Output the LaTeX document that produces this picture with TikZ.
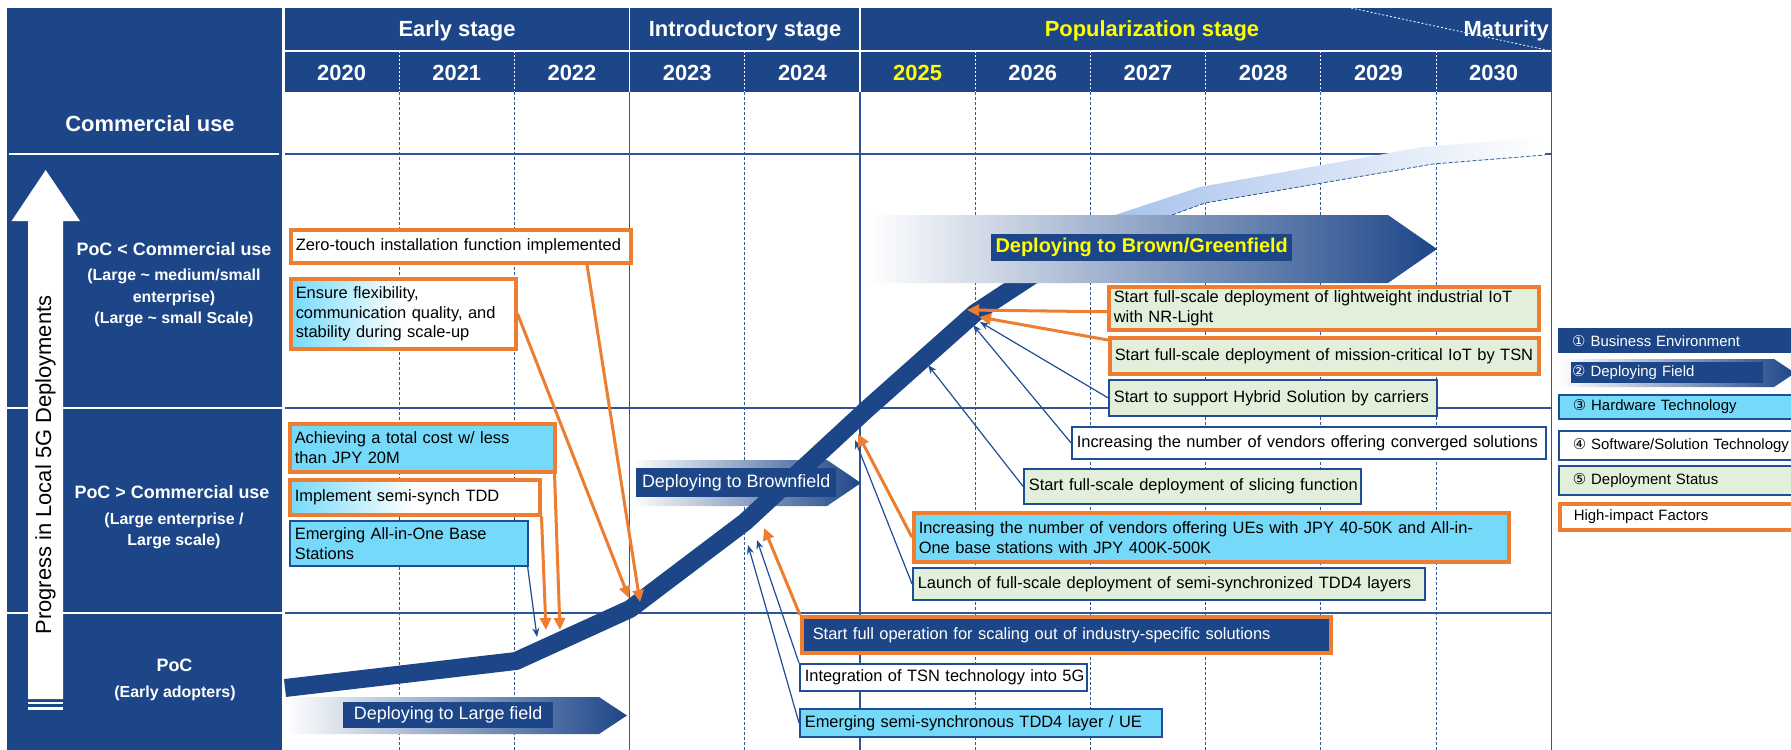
\documentclass[tikz,border=0pt]{standalone}
\usepackage{fontspec}
\setmainfont{Liberation Sans}
\newfontfamily\dejavu{DejaVu Sans}
\usetikzlibrary{arrows.meta,calc}
\definecolor{darkb}{RGB}{29,70,137}
\definecolor{gridb}{RGB}{47,85,151}
\definecolor{boxb}{RGB}{31,78,150}
\definecolor{orng}{RGB}{237,125,49}
\definecolor{cyanc}{RGB}{117,218,250}
\definecolor{greenc}{RGB}{226,239,218}
\definecolor{ribbonc}{RGB}{160,189,234}
\definecolor{yel}{RGB}{255,255,0}
\newcommand\fsBody{\fontsize{16.5}{20}\selectfont}
\newcommand\fsHdr{\fontsize{22}{26}\selectfont\bfseries}
\newcommand\fsCU{\fontsize{22}{26}\selectfont\bfseries}
\newcommand\fsLabA{\fontsize{18}{22}\selectfont\bfseries}
\newcommand\fsLabB{\fontsize{16}{21.5}\selectfont\bfseries}
\newcommand\fsArr{\fontsize{18}{22}\selectfont}
\newcommand\fsBG{\fontsize{20}{24}\selectfont\bfseries}
\newcommand\fsProg{\fontsize{22}{26}\selectfont}
\newcommand\fsLeg{\fontsize{15}{18}\selectfont}
\begin{document}
\begin{tikzpicture}[x=1bp, y=-1bp,
  tb/.style={anchor=north west, inner xsep=5bp, inner ysep=0bp, align=left, font=\fsBody, text=black},
  ob/.style={tb, draw=orng, line width=3.5bp},
  bb/.style={tb, draw=boxb, line width=1.6bp},
  oarr/.style={draw=orng, line width=3bp, -{Triangle[length=12bp,width=11bp]}},
  barr/.style={draw=boxb, line width=1.2bp, -{Stealth[length=9bp,width=7bp]}},
  hd/.style={text=white, font=\fsHdr, inner sep=0pt},
  lbl/.style={text=white, align=center, inner sep=0pt},
  arlab/.style={fill=darkb, anchor=north west, inner sep=0pt, font=\fsArr, text=white},
  lgn/.style={anchor=north west, inner xsep=14bp, inner ysep=0bp, text width=232bp, align=left, font=\fsLeg},
  gsolid/.style={draw=gridb, line width=1.5bp},
  gdash/.style={draw=gridb, line width=0.7bp, dash pattern=on 3bp off 2bp}
]
\useasboundingbox (0,0) rectangle (1791,750);
\fill[white] (0,0) rectangle (1791,750);

% panels
\fill[darkb] (7,8) rectangle (282,750);
\fill[darkb] (285,8) rectangle (1551,92);

% header lines
\draw[white, line width=1.5bp] (285,51) -- (1551,51);
\draw[white, line width=1.5bp] (629.6,8) -- (629.6,92);
\draw[white, line width=1.5bp] (860,8) -- (860,92);
\foreach \i in {1,2,4,6,7,8,9,10}
  \draw[white, line width=0.8bp, dash pattern=on 2bp off 2bp] ({284+115.2*\i},51) -- ({284+115.2*\i},92);
\draw[white, line width=0.8bp, dash pattern=on 2bp off 2bp] (1351,8) -- (1551,51);

% header texts
\node[hd] (st1) at (457,31) {Early stage};
\node[hd] (st2) at (745,31) {Introductory stage};
\node[hd, text=yel] (st3) at (1152,31) {Popularization stage};
\node[hd, anchor=east] (st4) at (1549,31) {Maturity};
\foreach \yr/\c [count=\i from 0] in {2020/white,2021/white,2022/white,2023/white,2024/white,2025/yel,2026/white,2027/white,2028/white,2029/white,2030/white}
  \node[hd, text=\c] (yr\yr) at ({284+115.2*(\i+0.5)},73) {\yr};

% grid
\foreach \i in {1,2,4,6,7,8,9,10}
  \draw[gdash] ({284+115.2*\i},92) -- ({284+115.2*\i},750);
\draw[gsolid] (629.6,92) -- (629.6,750);
\draw[gsolid] (860,92) -- (860,750);
\draw[gsolid] (1551.5,8) -- (1551.5,750);
\draw[gridb, line width=2.4bp] (285,154) -- (1551,154);
\draw[gsolid] (285,408) -- (1551,408);
\draw[gsolid] (285,613) -- (1551,613);

% left panel
\draw[white, line width=2bp] (9,154) -- (279,154);
\draw[white, line width=1.5bp] (7,408) -- (282,408);
\draw[white, line width=1.5bp] (7,613) -- (282,613);
\node[lbl, font=\fsCU] (cu) at (150,124) {Commercial use};
\node[lbl, font=\fsLabA] (l1) at (174,249) {PoC < Commercial use};
\node[lbl, font=\fsLabB] (l1s) at (174,298) {(Large \textasciitilde{} medium/small\\enterprise)\\(Large \textasciitilde{} small Scale)};
\node[lbl, font=\fsLabA] (l2) at (172,492) {PoC > Commercial use};
\node[lbl, font=\fsLabB] (l2s) at (174,531) {(Large enterprise /\\Large scale)};
\node[lbl, font=\fsLabA] (l3) at (174.5,665) {PoC};
\node[lbl, font=\fsLabB] (l3s) at (175,693) {(Early adopters)};

% big arrow
\fill[white] (45.7,170) -- (80,221) -- (63,221) -- (63,699) -- (28,699) -- (28,221) -- (11.6,221) -- cycle;
\fill[white] (28,701.5) rectangle (63,704);
\fill[white] (28,706.5) rectangle (63,709.5);
\node[rotate=90, font=\fsProg, text=black, inner sep=0pt] (prog) at (45.5,465) {Progress in Local 5G Deployments};

% field arrows
\shade[left color=white, right color=darkb] (284,697) -- (599,697) -- (627,715.5) -- (599,734) -- (284,734) -- cycle;
\shade[left color=white, right color=darkb] (631,460) -- (827,460) -- (861,483) -- (827,506) -- (631,506) -- cycle;

% S-curve band
\draw[darkb, line width=18bp, line join=round] (285,688) -- (516,661) -- (630,609) -- (745,522) -- (866,410) -- (975,313) -- (1085,241);
\shade[left color=ribbonc, right color=white] (1075,245) -- (1115,215) -- (1200,187) -- (1423,147) -- (1545,137) -- (1545,155) -- (1433,164) -- (1205,203) -- (1172,215) -- (1130,250) -- cycle;
\draw[gridb, line width=0.8bp, dash pattern=on 4bp off 2bp] (1172,215) -- (1205,203) -- (1433,164) -- (1545,155);

\shade[left color=white, right color=darkb] (868,215) -- (1388,215) -- (1437,249) -- (1388,283) -- (868,283) -- cycle;

\node[arlab, minimum width=210bp, minimum height=26bp] (lfl) at (343,702) {Deploying to Large field};
\node[arlab, minimum width=200bp, minimum height=29bp] (bfl) at (636,468) {Deploying to Brownfield};
\node[arlab, font=\fsBG, text=yel, minimum width=301bp, minimum height=27bp] (bgf) at (991,234) {Deploying to Brown/Greenfield};

% boxes
\node[ob, fill=white, minimum height=33bp, text width=330bp] (zt) at (289,228) {\mbox{Zero-touch installation function implemented}};
\node[ob, left color=cyanc, right color=white, middle color=white, minimum height=70bp, text width=215bp] (ens) at (289,277) {\mbox{Ensure flexibility,}\\\mbox{communication quality, and}\\\mbox{stability during scale-up}};
\node[ob, fill=cyanc, minimum height=48bp, text width=255bp] (ach) at (288,422) {\mbox{Achieving a total cost w/ less}\\\mbox{than JPY 20M}};
\node[ob, left color=cyanc, right color=white, middle color=white, minimum height=35bp, text width=240bp] (imp) at (288,478) {\mbox{Implement semi-synch TDD}};
\node[bb, fill=cyanc, minimum height=45bp, text width=228bp] (aio) at (289,520) {\mbox{Emerging All-in-One Base}\\\mbox{Stations}};
\node[ob, fill=darkb, text=white, inner xsep=11bp, minimum height=36bp, text width=507bp] (sfo) at (800,615) {\mbox{Start full operation for scaling out of industry-specific solutions}};
\node[bb, fill=white, minimum height=27bp, text width=277bp] (tsn) at (799,663) {\mbox{Integration of TSN technology into 5G}};
\node[bb, fill=cyanc, minimum height=28bp, text width=352bp] (ems) at (799,708) {\mbox{Emerging semi-synchronous TDD4 layer / UE}};
\node[bb, fill=greenc, minimum height=32bp, text width=502bp] (lau) at (912,567) {\mbox{Launch of full-scale deployment of semi-synchronized TDD4 layers}};
\node[ob, fill=cyanc, minimum height=49bp, text width=585bp] (inc) at (912,511) {\mbox{Increasing the number of vendors offering UEs with JPY 40-50K and All-in-}\\\mbox{One base stations with JPY 400K-500K}};
\node[bb, fill=greenc, minimum height=35bp, text width=327bp] (sli) at (1023,468) {\mbox{Start full-scale deployment of slicing function}};
\node[bb, fill=white, minimum height=32bp, text width=464bp] (con) at (1071,426) {\mbox{Increasing the number of vendors offering converged solutions}};
\node[bb, fill=greenc, minimum height=36bp, text width=318bp] (hyb) at (1108,379) {\mbox{Start to support Hybrid Solution by carriers}};
\node[ob, fill=greenc, minimum height=36bp, text width=419bp] (mis) at (1108,336) {\mbox{Start full-scale deployment of mission-critical IoT by TSN}};
\node[ob, fill=greenc, minimum height=43bp, text width=420bp] (nrl) at (1107,285) {\mbox{Start full-scale deployment of lightweight industrial IoT}\\\mbox{with NR-Light}};

% connector targets on the curve
\coordinate (t-aio) at (537,637);
\coordinate (t-imp) at (546,630);
\coordinate (t-ach) at (560,630);
\coordinate (t-ens) at (629,598);
\coordinate (t-zt) at (640,602);
\coordinate (t-ems) at (748,545);
\coordinate (t-tsn) at (757,540);
\coordinate (t-sfo) at (764,528);
\coordinate (t-lau) at (855,440);
\coordinate (t-inc) at (858,434);
\coordinate (t-sli) at (928,365);
\coordinate (t-con) at (973,325);
\coordinate (t-hyb) at (980,322);
\coordinate (t-mis) at (979,317);
\coordinate (t-nrl) at (967,310);

\draw[oarr] ([xshift=298bp]zt.south west) -- (t-zt);
\draw[oarr] (ens.east) -- (t-ens);
\draw[oarr] ([xshift=-2bp]ach.south east) -- (t-ach);
\draw[oarr] (imp.south east) -- (t-imp);
\draw[barr] ([xshift=-1bp]aio.south east) -- (t-aio);
\draw[oarr] (sfo.north west) -- (t-sfo);
\draw[barr] (tsn.north west) -- (t-tsn);
\draw[barr] (ems.west) -- (t-ems);
\draw[barr] (lau.west) -- (t-lau);
\draw[oarr] (inc.west) -- (t-inc);
\draw[barr] (sli.west) -- (t-sli);
\draw[barr] (con.west) -- (t-con);
\draw[barr] (hyb.west) -- (t-hyb);
\draw[oarr] ([yshift=-4bp]mis.north west) -- (t-mis);
\draw[oarr] ([yshift=-3.5bp]nrl.west) -- (t-nrl);

% legend
\node[lgn, fill=darkb, text=white, minimum height=25bp] (lg1) at (1558,328) {\mbox{{\dejavu ①} Business Environment}};
\shade[left color=white, right color=darkb] (1558,359) -- (1774,359) -- (1795,373) -- (1774,387) -- (1558,387) -- cycle;
\node[anchor=north west, fill=darkb, text=white, font=\fsLeg, inner xsep=1bp, inner ysep=0bp, minimum height=21bp, text width=190bp, align=left] (lg2) at (1571,362) {\mbox{{\dejavu ②} Deploying Field}};
\node[lgn, fill=cyanc, draw=boxb, line width=1.6bp, minimum height=24bp] (lg3) at (1558,394) {\mbox{{\dejavu ③} Hardware Technology}};
\node[lgn, fill=white, draw=boxb, line width=1.6bp, minimum height=29bp] (lg4) at (1558,430) {\mbox{{\dejavu ④} Software/Solution Technology}};
\node[lgn, fill=greenc, draw=boxb, line width=1.6bp, minimum height=29bp] (lg5) at (1558,465) {\mbox{{\dejavu ⑤} Deployment Status}};
\node[lgn, fill=white, draw=orng, line width=3.5bp, minimum height=26bp] (lg6) at (1558,502) {\mbox{High-impact Factors}};
\end{tikzpicture}
\end{document}
